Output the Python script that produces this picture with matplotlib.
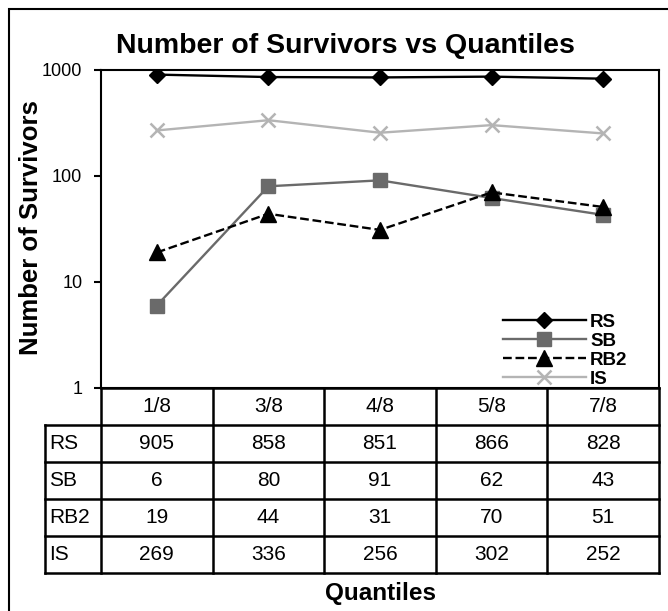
import matplotlib
matplotlib.use("Agg")
import matplotlib.pyplot as plt
from matplotlib.patches import Rectangle
import numpy as np

plt.rcParams['font.family'] = ['Liberation Sans', 'DejaVu Sans']

# ── data ─────────────────────────────────────────
quantiles = ["1/8", "3/8", "4/8", "5/8", "7/8"]
series_names = ["RS", "SB", "RB2", "IS"]
rs  = [905, 858, 851, 866, 828]
sb  = [6, 80, 91, 62, 43]
rb2 = [19, 44, 31, 70, 51]
is_ = [269, 336, 256, 302, 252]

styles = {
    "RS":  dict(color="black",   linestyle="-",  marker="D", ms=8.5, mfc="black",   mec="black"),
    "SB":  dict(color="#6a6a6a", linestyle="-",  marker="s", ms=9.5, mfc="#6a6a6a", mec="#6a6a6a"),
    "RB2": dict(color="black",   linestyle="--", marker="^", ms=11,  mfc="black",   mec="black"),
    "IS":  dict(color="#b4b4b4", linestyle="-",  marker="x", ms=10,  mew=1.8),
}
values = {"RS": rs, "SB": sb, "RB2": rb2, "IS": is_}

W, H = 668, 611
fig = plt.figure(figsize=(W / 100, H / 100), dpi=100)

def px(x0, y0, x1, y1):
    return [x0 / W, 1 - y1 / H, (x1 - x0) / W, (y1 - y0) / H]

# outer frame (right and bottom edges run off the picture)
fig.patches.append(Rectangle((9 / W, -0.05), (W + 10) / W, 1.05 - 9 / H,
                             transform=fig.transFigure, fill=False, lw=1.5, ec="black"))

left, right, top, bottom = 101, 659, 70, 388
ax = fig.add_axes(px(left, top, right, bottom))
x = np.arange(len(quantiles))
for name in series_names:
    ax.plot(x, values[name], lw=1.7, label=name, **styles[name])
ax.set_yscale("log")
ax.set_ylim(1, 1000)
ax.set_xlim(-0.5, len(quantiles) - 0.5)
ax.set_xticks([])
ax.set_yticks([1, 10, 100, 1000])
ax.set_yticklabels(["1", "10", "100", "1000"], fontsize=13)
ax.yaxis.set_minor_locator(matplotlib.ticker.NullLocator())
ax.tick_params(axis="y", length=5, width=1.5, pad=8.5)
for s in ax.spines.values():
    s.set_linewidth(1.5)

fig.text(31 / W, 1 - 228 / H, "Number of Survivors", rotation=90, ha="center", va="center",
         fontsize=18.5, fontweight="bold")
fig.text(345 / W, 1 - 53 / H, "Number of Survivors vs Quantiles", ha="center", va="baseline",
         fontsize=20.5, fontweight="bold")

ax.legend(loc="lower left", bbox_to_anchor=((503 - left) / (right - left), 0.0),
          frameon=False, prop=dict(size=13.5, weight="bold"), handlelength=4.4,
          handletextpad=0.25, labelspacing=0.1, borderpad=0.0, borderaxespad=0.0)

# ── data table ───────────────────────────────────
lab_w = (left - 45) / ((right - left) / len(quantiles))
tax = fig.add_axes(px(45, bottom, right, 573))
tax.set_xlim(-0.5 - lab_w, len(quantiles) - 0.5)
tax.set_ylim(len(series_names) + 1, 0)
tax.axis("off")
lkw = dict(color="black", lw=1.8, solid_capstyle="projecting", clip_on=False)
nrows = len(series_names) + 1
tax.plot([-0.5, len(quantiles) - 0.5], [0, 0], **lkw)
for r in range(1, nrows + 1):
    tax.plot([-0.5 - lab_w, len(quantiles) - 0.5], [r, r], **lkw)
for c in range(len(quantiles) + 1):
    tax.plot([c - 0.5, c - 0.5], [0, nrows], **lkw)
tax.plot([-0.5 - lab_w, -0.5 - lab_w], [1, nrows], **lkw)
for c, q in enumerate(quantiles):
    tax.text(c, 0.5, q, ha="center", va="center", fontsize=15)
for r, name in enumerate(series_names):
    tax.text(-0.5 - lab_w + 0.04, r + 1.5, name, ha="left", va="center", fontsize=15)
    for c, v in enumerate(values[name]):
        tax.text(c, r + 1.5, str(v), ha="center", va="center", fontsize=15)

fig.text((left + right) / 2 / W, 1 - 600 / H, "Quantiles", ha="center", va="baseline",
         fontsize=17.5, fontweight="bold")

fig.savefig("out.png", dpi=100)
